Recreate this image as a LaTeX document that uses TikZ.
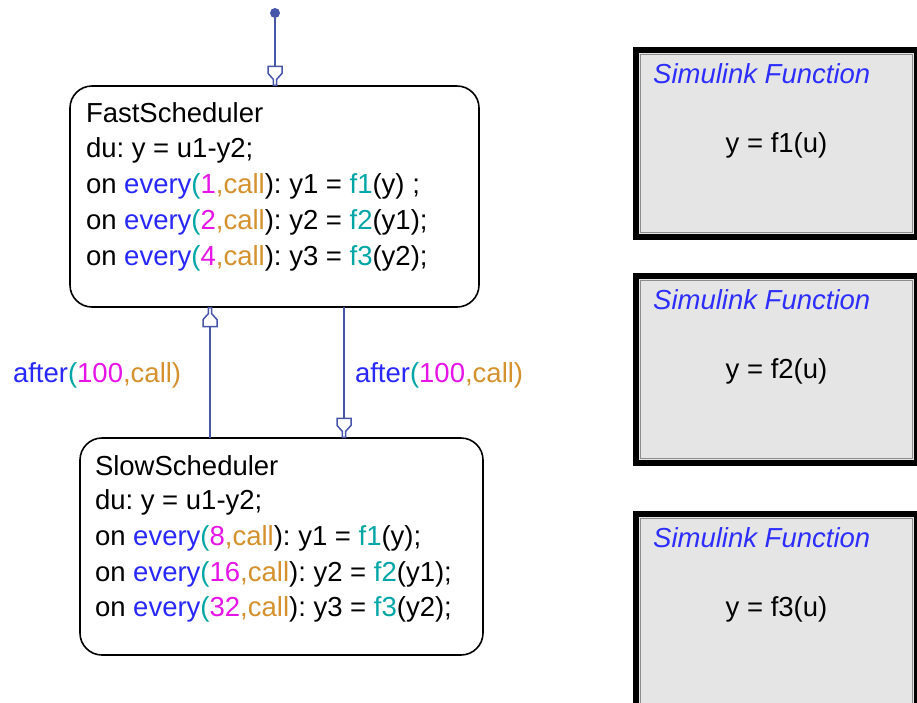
\documentclass[tikz,border=0pt]{standalone}
\usepackage{fontspec}
\setmainfont{Liberation Sans}
\usetikzlibrary{arrows.meta,calc}
\definecolor{evblue}{RGB}{40,40,250}
\definecolor{nummag}{RGB}{230,20,230}
\definecolor{callor}{RGB}{212,145,45}
\definecolor{fteal}{RGB}{0,165,165}
\definecolor{trcol}{RGB}{72,86,170}
\definecolor{sfblue}{RGB}{45,45,255}
\definecolor{boxgray}{RGB}{229,229,229}
\definecolor{innergray}{RGB}{140,140,140}
\newcommand\myevery[1]{\textcolor{evblue}{every}\textcolor{fteal}{(}\textcolor{nummag}{#1}\textcolor{callor}{,call})}
\newcommand\myafter{\textcolor{evblue}{after}\textcolor{fteal}{(}\textcolor{nummag}{100}\textcolor{callor}{,call)}}
\newcommand\myf[1]{\textcolor{fteal}{f#1}}
\pgfdeclarearrow{
  name = SFtip,
  setup code = {
    \pgfarrowssettipend{0.6pt}
    \pgfarrowssetlineend{-19pt}
    \pgfarrowssetbackend{-19.6pt}
    \pgfarrowssetvisualbackend{-19pt}
    \pgfarrowshullpoint{0.6pt}{2pt}
    \pgfarrowshullpoint{0.6pt}{-2pt}
    \pgfarrowshullpoint{-19.6pt}{7.8pt}
    \pgfarrowshullpoint{-19.6pt}{-7.8pt}
  },
  drawing code = {
    \pgfsetdash{}{0pt}
    \pgfsetmiterjoin
    \pgfpathmoveto{\pgfqpoint{0pt}{1.6pt}}
    \pgfpathlineto{\pgfqpoint{-6pt}{1.6pt}}
    \pgfpathlineto{\pgfqpoint{-12pt}{7pt}}
    \pgfpathlineto{\pgfqpoint{-19pt}{7pt}}
    \pgfpathlineto{\pgfqpoint{-19pt}{-7pt}}
    \pgfpathlineto{\pgfqpoint{-12pt}{-7pt}}
    \pgfpathlineto{\pgfqpoint{-6pt}{-1.6pt}}
    \pgfpathlineto{\pgfqpoint{0pt}{-1.6pt}}
    \pgfpathclose
    \pgfsetfillcolor{white}
    \pgfusepathqfillstroke
  }
}
\tikzset{
  statebox/.style={draw=black, line width=1.6pt, rounded corners=22pt, inner sep=0pt, outer sep=0pt, anchor=north west},
  txt/.style={anchor=base west, inner sep=0pt, outer sep=0pt},
  tr/.style={draw=trcol, line width=1.5pt, -{SFtip}},
  sfbox/.style={draw=black, line width=6pt, fill=boxgray, minimum width=281pt, minimum height=187pt, anchor=north west, inner sep=0pt, outer sep=0pt},
  innerline/.style={draw=innergray, line width=0.8pt},
  sftitle/.style={anchor=base west, inner sep=0pt, text=sfblue, font=\fontsize{27.5}{33}\selectfont\itshape},
  sfeq/.style={anchor=base, inner sep=0pt}
}
\begin{document}
\frenchspacing
\begin{tikzpicture}[x=1pt, y=-1pt, font=\fontsize{27.5}{33}\selectfont\frenchspacing]
\useasboundingbox (0,0) rectangle (917,702);
\clip (0,0) rectangle (917,702);
\fill[white] (0,0) rectangle (917,702);

% states
\node[statebox, minimum width=409pt, minimum height=221pt] (fast) at (70,86) {};
\node[statebox, minimum width=403pt, minimum height=217pt] (slow) at (80,438) {};

\node[txt] (f0) at (86,122) {FastScheduler};
\node[txt] (f1) at (86,157.5) {du: y = u1-y2;};
\node[txt] (f2) at (86,193) {on \myevery{1}: y1 = \myf{1}(y) ;};
\node[txt] (f3) at (86,229) {on \myevery{2}: y2 = \myf{2}(y1);};
\node[txt] (f4) at (86,265) {on \myevery{4}: y3 = \myf{3}(y2);};

\node[txt] (s0) at (95,475) {SlowScheduler};
\node[txt] (s1) at (95,509) {du: y = u1-y2;};
\node[txt] (s2) at (95,545) {on \myevery{8}: y1 = \myf{1}(y);};
\node[txt] (s3) at (95,581) {on \myevery{16}: y2 = \myf{2}(y1);};
\node[txt] (s4) at (95,616) {on \myevery{32}: y3 = \myf{3}(y2);};

% initial transition
\node[circle, fill=trcol, inner sep=0pt, minimum size=10pt] (init) at (275,13) {};
\draw[tr] (init) -- (init |- fast.north);

% transitions
\draw[tr] (210,0 |- slow.north) -- (210,0 |- fast.south);
\draw[tr] (344,0 |- fast.south) -- (344,0 |- slow.north);
\node[txt] (lab1) at (13,382) {\myafter};
\node[txt] (lab2) at (355,382) {\myafter};

% Simulink function boxes
\node[sfbox] (b1) at (636,50) {};
\node[sfbox] (b2) at (636,276) {};
\node[sfbox, minimum height=210pt] (b3) at (636,514) {};
\foreach \b in {b1,b2,b3}{
  \draw[innerline] ($(\b.north west)+(4.5,4.5)$) rectangle ($(\b.south east)+(-4.5,-4.5)$);
}
\node[sftitle] (b1t) at ($(b1.north west)+(17,33)$) {Simulink Function};
\node[sftitle] (b2t) at ($(b2.north west)+(17,33)$) {Simulink Function};
\node[sftitle] (b3t) at ($(b3.north west)+(17,33)$) {Simulink Function};
\node[sfeq] (b1e) at ($(b1.north)+(0,102)$) {y = f1(u)};
\node[sfeq] (b2e) at ($(b2.north)+(0,102)$) {y = f2(u)};
\node[sfeq] (b3e) at ($(b3.north west)+(140.5,102)$) {y = f3(u)};
\end{tikzpicture}
\end{document}
